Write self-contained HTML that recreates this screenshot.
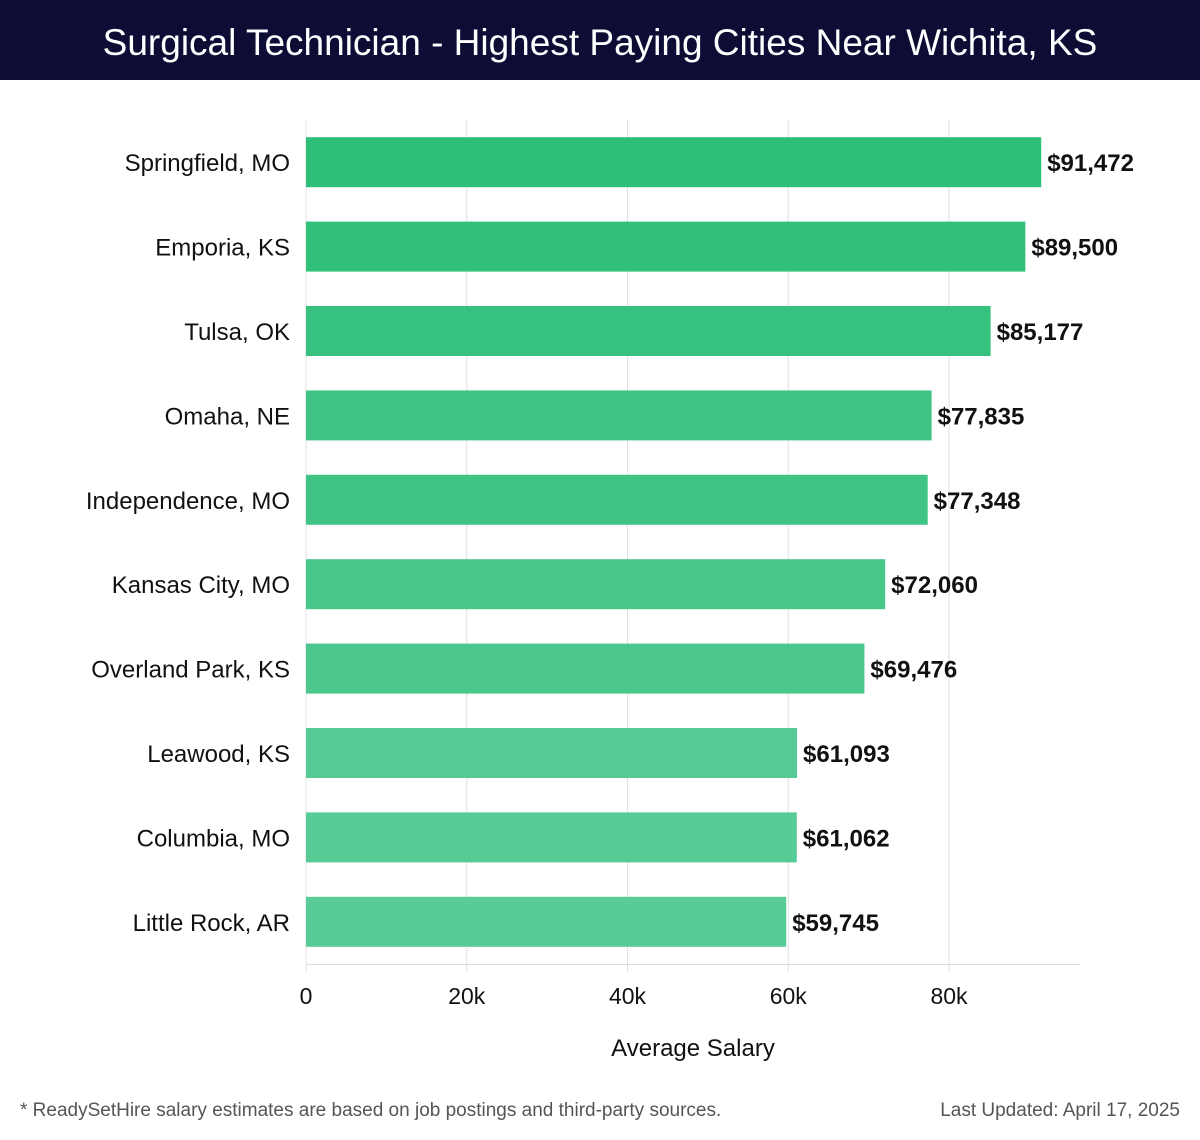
<!DOCTYPE html>
<html><head><meta charset="utf-8"><style>
body{margin:0;width:1200px;height:1140px;background:#fff;font-family:"Liberation Sans","DejaVu Sans",sans-serif;overflow:hidden;position:relative}
#title{position:absolute;left:0;top:0;width:1200px;height:80px;background:#0c0c35;color:#fff;font-size:37px;text-align:center;line-height:86px}
.foot{position:absolute;top:1100px;font-size:19px;color:#555}
</style></head><body>
<div id="title">Surgical Technician - Highest Paying Cities Near Wichita, KS</div>
<svg id="chart" width="1200" height="1140" style="position:absolute;left:0;top:0"></svg>
<div class="foot" style="left:20px">* ReadySetHire salary estimates are based on job postings and third-party sources.</div>
<div class="foot" style="right:20px">Last Updated: April 17, 2025</div>
<script>
const categories=["Springfield, MO","Emporia, KS","Tulsa, OK","Omaha, NE","Independence, MO","Kansas City, MO","Overland Park, KS","Leawood, KS","Columbia, MO","Little Rock, AR"];
const values=[91472,89500,85177,77835,77348,72060,69476,61093,61062,59745];
const valueLabels=["$91,472","$89,500","$85,177","$77,835","$77,348","$72,060","$69,476","$61,093","$61,062","$59,745"];
const ticks=[0,20000,40000,60000,80000];
const tickLabels=["0","20k","40k","60k","80k"];
const svg=document.getElementById('chart');const NS="http://www.w3.org/2000/svg";
const x0=306,pxPer=160.75/20000,plotTop=120,band=84.4,plotR=1080;
const xs=v=>x0+v*pxPer;
function mk(t,a){const e=document.createElementNS(NS,t);for(const k in a)e.setAttribute(k,a[k]);svg.appendChild(e);return e;}
ticks.forEach((t,i)=>{
 const g=mk('line',{x1:xs(t),x2:xs(t),y1:plotTop,y2:964+8,stroke:'#e0e0e0','stroke-width':1});
 
 
 const l=mk('text',{x:xs(t),y:1004,'text-anchor':'middle','font-size':23,fill:'#111'});l.textContent=tickLabels[i];
 
 
});
const ax=mk('line',{x1:x0,x2:plotR,y1:964.5,y2:964.5,stroke:'#ddd'});


const mx=Math.max(...values),mn=Math.min(...values);
values.forEach((v,i)=>{
 const c=plotTop+band*(i+0.5);const f=(mx-v)/(mx-mn);
 const col=`rgb(${Math.round(45+43*f)},${Math.round(191+12*f)},${Math.round(120+30*f)})`;
 const r=mk('rect',{x:x0,y:c-25,width:xs(v)-x0,height:50,fill:col});
 
 
 const lab=mk('text',{x:xs(v)+6,y:c+9,'font-size':24,'font-weight':'bold',fill:'#111'});lab.textContent=valueLabels[i];
 
 
 const cat=mk('text',{x:290,y:c+9,'text-anchor':'end','font-size':24,fill:'#111'});cat.textContent=categories[i];
 
 
});
const xt=mk('text',{x:693,y:1056,'text-anchor':'middle','font-size':24,fill:'#111'});xt.textContent="Average Salary";


</script>
</body></html>
